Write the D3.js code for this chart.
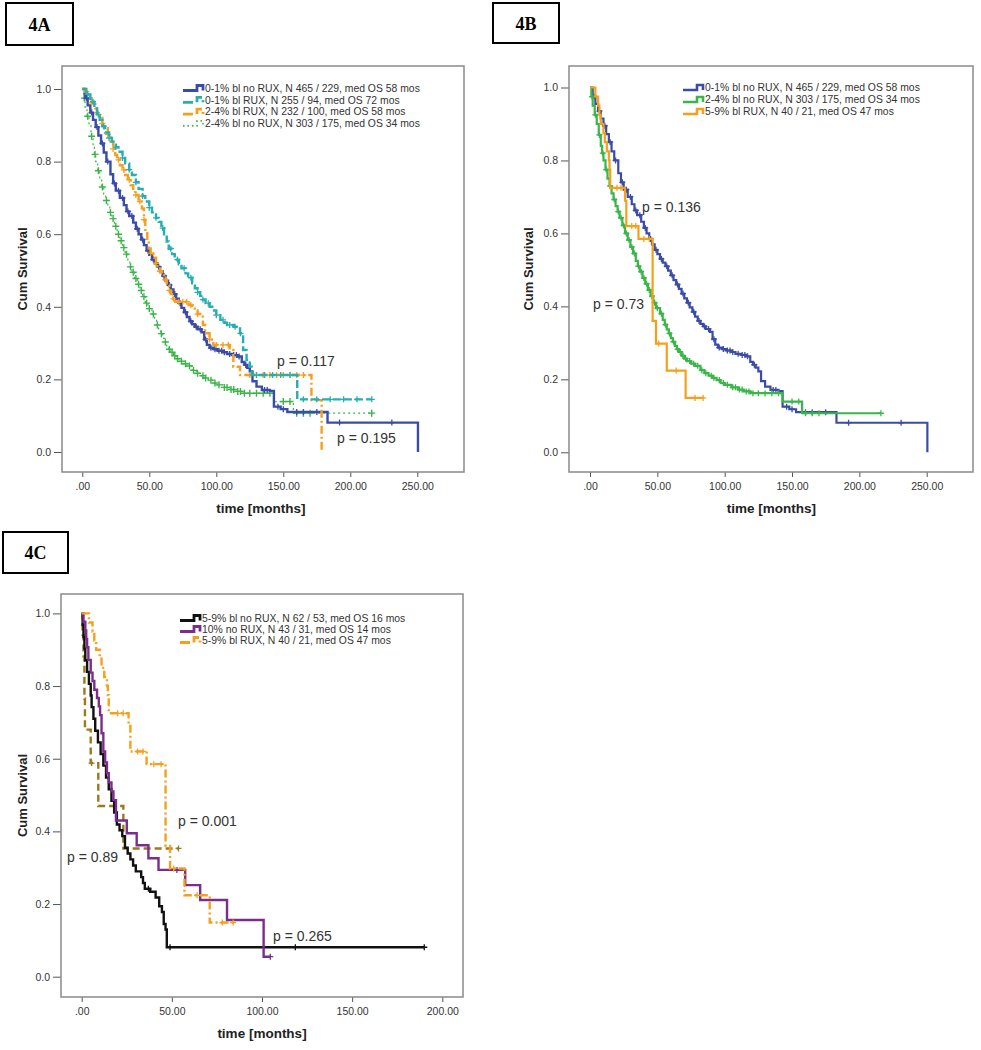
<!DOCTYPE html>
<html><head><meta charset="utf-8">
<script src="https://cdn.jsdelivr.net/npm/d3@7"></script>
<style>body{margin:0;background:#fff;} svg{display:block;font-family:Arial,"Liberation Sans",sans-serif;}</style>
</head><body>
<svg id="c" width="981" height="1050"></svg>
<script>
// ---------- DATA ----------
const xTicks250 = [0, 50, 100, 150, 200, 250];
const xLabels250 = [".00", "50.00", "100.00", "150.00", "200.00", "250.00"];
const xTicks200 = [0, 50, 100, 150, 200];
const xLabels200 = [".00", "50.00", "100.00", "150.00", "200.00"];
const yTicks = [0, 0.2, 0.4, 0.6, 0.8, 1.0];
const yLabels = ["0.0", "0.2", "0.4", "0.6", "0.8", "1.0"];

// [time (months), cumulative survival]
const blue01NoRux = [[0,1],[2,0.975],[4,0.955],[6,0.935],[8,0.915],[10,0.895],[12,0.872],[14,0.85],[16,0.825],[18,0.8],[21,0.765],[23,0.74],[25,0.72],[28,0.7],[31,0.68],[33,0.663],[35,0.65],[38,0.632],[40,0.615],[42,0.6],[44,0.585],[46,0.57],[48,0.555],[50,0.543],[52,0.53],[54,0.52],[56,0.51],[58,0.498],[60,0.485],[62,0.472],[64,0.46],[66,0.448],[68,0.435],[70,0.422],[72,0.41],[74,0.397],[76,0.385],[78,0.372],[80,0.36],[82,0.352],[84,0.345],[86,0.338],[89,0.33],[91,0.31],[93,0.295],[95,0.287],[98,0.283],[101,0.279],[105,0.275],[108,0.27],[112,0.267],[116,0.263],[119,0.248],[121,0.24],[123,0.232],[125,0.222],[127,0.195],[130,0.18],[134,0.171],[140,0.168],[143,0.125],[148,0.118],[153,0.11],[183,0.081],[250.5,0]];
const blue01NoRuxCens = [3,7,11,15,19,24,27,30,34,37,41,45,49,53,57,61,65,69,73,77,81,85,88,92,96,99,102,104,106,110,113,115,117,122,136,138,146,150,160,165,175,192,231];

const teal01Rux = [[0,1],[3,0.985],[6,0.965],[9,0.95],[11,0.93],[13,0.915],[15,0.897],[17,0.88],[20,0.865],[22,0.855],[25,0.84],[27,0.827],[30,0.81],[32,0.795],[35,0.778],[37,0.763],[40,0.743],[42,0.725],[45,0.705],[47,0.69],[50,0.673],[52,0.66],[55,0.645],[57,0.634],[59,0.617],[61,0.6],[63,0.58],[64.5,0.56],[67,0.545],[69,0.53],[72,0.517],[74,0.506],[77,0.492],[79,0.48],[82,0.465],[84,0.451],[86,0.44],[88,0.43],[90,0.42],[92,0.41],[95,0.4],[97,0.39],[100,0.377],[103,0.364],[106,0.356],[108,0.35],[113,0.345],[117.7,0.327],[120,0.281],[122.6,0.253],[125,0.235],[126.4,0.212],[160.4,0.145],[216,0.145]];
const teal01RuxCens = [4,8,12,16,20,25,30,35,40,45,50,55,60,66,71,76,81,86,90,94,100,105,110,114,118,130,136,142,148,155,165,175,185,195,205,216];

const orange24Rux = [[0,1],[2,0.993],[5,0.975],[7,0.962],[9.7,0.947],[11,0.935],[13,0.92],[15,0.905],[17,0.892],[19,0.875],[21,0.855],[23,0.835],[24.6,0.818],[26,0.805],[28,0.79],[30,0.777],[32,0.763],[34,0.75],[36,0.735],[38,0.72],[39.6,0.708],[42,0.69],[44.5,0.671],[46,0.64],[47,0.607],[48.5,0.58],[49.6,0.561],[51,0.548],[53,0.535],[55,0.52],[56,0.51],[58,0.498],[59.5,0.488],[61,0.475],[63,0.46],[65,0.445],[66,0.435],[68,0.422],[69.4,0.414],[79.4,0.405],[82,0.395],[84,0.39],[86,0.38],[88,0.373],[90,0.35],[91.6,0.327],[95,0.31],[97.8,0.295],[110,0.281],[112.7,0.235],[117.7,0.212],[171,0.143],[178.6,0]];
const orange24RuxCens = [3,7,11,15,19,23,27,31,35,40,43,46,51,55,58,62,65,68,72,75,78,81,86,95,100,105,109,125,130,135,140,145,150,155,160,165];

const green24NoRux = [[0,1],[1,0.975],[2,0.95],[3.5,0.925],[5,0.9],[6.5,0.87],[8,0.84],[9,0.82],[10,0.8],[11.5,0.775],[13,0.75],[14.5,0.73],[16,0.71],[17.5,0.693],[19,0.675],[20.5,0.66],[22,0.643],[24,0.622],[26,0.6],[28,0.582],[30,0.563],[32,0.545],[34,0.525],[35.5,0.51],[37,0.495],[39,0.478],[41,0.462],[43,0.445],[45,0.428],[47,0.41],[49,0.395],[52,0.38],[54,0.363],[55.5,0.35],[57,0.337],[58.5,0.326],[60,0.313],[61.5,0.303],[63,0.292],[64.5,0.283],[66,0.275],[68,0.265],[70,0.257],[72,0.25],[75,0.243],[78,0.237],[82,0.225],[85,0.217],[88,0.21],[91,0.204],[94,0.198],[97,0.19],[100,0.185],[105,0.178],[110,0.172],[114,0.167],[119,0.162],[143,0.139],[157.5,0.107],[216,0.107]];
const green24NoRuxCens = [1.5,4,7,9.5,12,15,18,21,23,25,27,29,31,33,36,38,40,42,44,46,48,50,53,56,59,62,65,67,69,71,74,77,80,83,86,90,92,96,99,102,106,108,111,113,116,118,121,125,130,135,140,150,155,160,165,170,216];

const orange59Rux = [[0,1],[4,0.975],[6,0.95],[7,0.925],[8,0.9],[10,0.875],[11,0.85],[12.5,0.825],[14,0.8],[14.5,0.775],[15,0.725],[26,0.69],[27,0.62],[36,0.585],[46.5,0.36],[49,0.298],[57,0.224],[71,0.149],[84,0.149]];
const orange59RuxCens = [20,23,31,34,40,44,51,64,78,84];

const black59NoRux = [[0,1],[0.5,0.968],[1,0.935],[1.5,0.903],[2,0.871],[3,0.839],[4,0.806],[5,0.774],[5.5,0.742],[6.5,0.71],[7.5,0.677],[9,0.645],[10.5,0.613],[12,0.581],[13.5,0.548],[15,0.516],[16.5,0.484],[18,0.452],[19.5,0.419],[21,0.403],[22.5,0.387],[24,0.355],[25.5,0.339],[27,0.323],[28.5,0.306],[30,0.29],[33,0.274],[34,0.258],[35,0.242],[38,0.234],[41,0.218],[43,0.194],[44.5,0.178],[45.5,0.145],[46.5,0.13],[47.2,0.081],[190,0.081]];
const black59NoRuxCens = [37,49,118.5,190];

const purple10NoRux = [[0,1],[1,0.977],[2,0.953],[2.5,0.93],[3,0.907],[3.7,0.872],[5,0.837],[6,0.814],[7,0.79],[8.5,0.767],[9.5,0.744],[10.2,0.72],[11,0.67],[12,0.62],[13,0.59],[14,0.56],[15,0.535],[16.5,0.51],[17.6,0.486],[19,0.43],[25,0.395],[30.5,0.362],[37,0.326],[42.6,0.294],[57.4,0.252],[65.7,0.211],[80.6,0.156],[100.9,0.055],[104.6,0.055]];
const purple10NoRuxCens = [52.8,104.6];

const brownUnlabeled = [[0,1],[0.5,0.941],[1,0.882],[1.5,0.765],[1.8,0.68],[5,0.588],[9.2,0.47],[23.1,0.353],[53.7,0.353]];
const brownUnlabeledCens = [5.5,53.7];

const legendA = ["0-1% bl no RUX, N 465 / 229, med OS 58 mos","0-1% bl RUX, N 255 / 94, med OS 72 mos","2-4% bl RUX, N 232 / 100, med OS 58 mos","2-4% bl no RUX, N 303 / 175, med OS 34 mos"];
const legendB = ["0-1% bl no RUX, N 465 / 229, med OS 58 mos","2-4% bl no RUX, N 303 / 175, med OS 34 mos","5-9% bl RUX, N 40 / 21, med OS 47 mos"];
const legendC = ["5-9% bl no RUX, N 62 / 53, med OS 16 mos","10% no RUX, N 43 / 31, med OS 14 mos","5-9% bl RUX, N 40 / 21, med OS 47 mos"];

// ---------- STYLES ----------
const C = {blue:"#3a4ca8", teal:"#26aeb2", orange:"#f5a01c", green:"#3bb54a", purple:"#7b2d8c", black:"#111111", brown:"#9c7a1c"};
const ST = {
  solid:{dash:null,w:2.4}, dashed:{dash:"8,3",w:2.4}, dashdot:{dash:"8,3,2,3",w:2.4},
  dotted:{dash:"2,3",w:1.2}, solidB:{dash:null,w:2.2}, brownDash:{dash:"7,4",w:2.4}
};

const svg = d3.select("#c");

function panelBox(x,y,w,h,label){
  svg.append("rect").attr("x",x).attr("y",y).attr("width",w).attr("height",h)
    .attr("fill","#fff").attr("stroke","#000").attr("stroke-width",2);
  svg.append("text").attr("x",x+w/2).attr("y",y+h/2+6.5).attr("text-anchor","middle")
    .attr("font-family","'Liberation Serif','Times New Roman',serif").attr("font-weight","bold")
    .attr("font-size",18).text(label);
}

function drawPanel(cfg){
  const g = svg.append("g");
  const x = d3.scaleLinear().domain([0,cfg.xMax]).range(cfg.xr);
  const y = d3.scaleLinear().domain([0,1]).range(cfg.yr);
  const f = cfg.frame;
  const ya = g.append("g").attr("transform",`translate(${f.x},0)`)
    .call(d3.axisLeft(y).tickValues(yTicks).tickFormat((d,i)=>yLabels[i]).tickSize(8).tickPadding(3));
  const xa = g.append("g").attr("transform",`translate(0,${f.y+f.h})`)
    .call(d3.axisBottom(x).tickValues(cfg.xTicks).tickFormat((d,i)=>cfg.xLabels[i]).tickSize(5).tickPadding(6));
  [ya,xa].forEach(a=>{
    a.select(".domain").remove();
    a.selectAll("line").attr("stroke","#555").attr("stroke-width",1);
    a.selectAll("text").attr("fill","#333").attr("font-size",10.5).attr("font-family","Arial,'Liberation Sans',sans-serif");
  });
  g.append("rect").attr("x",f.x).attr("y",f.y).attr("width",f.w).attr("height",f.h)
    .attr("fill","none").attr("stroke","#8a8a8a").attr("stroke-width",1.5);
  g.append("text").attr("transform",`translate(${cfg.ylabX},${f.y+f.h/2}) rotate(-90)`)
    .attr("text-anchor","middle").attr("font-weight","bold").attr("font-size",13).attr("fill","#222").text("Cum Survival");
  g.append("text").attr("x",(x(0)+x(cfg.xTicks[cfg.xTicks.length-1]))/2+cfg.xlabShift).attr("y",f.y+f.h+41)
    .attr("text-anchor","middle").attr("font-weight","bold").attr("font-size",13.5).attr("fill","#222").text("time [months]");
  const line = d3.line().x(d=>x(d[0])).y(d=>y(d[1])).curve(d3.curveStepAfter);
  const bis = d3.bisector(d=>d[0]).right;
  cfg.series.forEach(s=>{
    g.append("path").datum(s.data).attr("d",line).attr("fill","none")
      .attr("stroke",s.color).attr("stroke-width",s.style.w)
      .attr("stroke-dasharray",s.style.dash).attr("stroke-linejoin","miter");
    const arm = s.plus || 3;
    s.cens.forEach(t=>{
      const i = Math.max(0,bis(s.data,t)-1);
      const cx = x(t), cy = y(s.data[i][1]);
      g.append("path").attr("d",`M${cx-arm},${cy}H${cx+arm}M${cx},${cy-arm}V${cy+arm}`)
        .attr("stroke",s.color).attr("stroke-width",s.plusW||1.3).attr("fill","none");
    });
  });
  cfg.pvals.forEach(p=>{
    g.append("text").attr("x",p.x).attr("y",p.y).attr("font-size",14).attr("fill","#333").text(p.t);
  });
  cfg.legend.forEach((it,i)=>{
    const ly = cfg.leg.y + i*cfg.leg.dy;
    const lx = cfg.leg.x;
    g.append("path").attr("d",`M${lx},${ly+2.5}H${lx+14}V${ly-2.5}H${lx+20}V${ly+2.5}`)
      .attr("fill","none").attr("stroke",it.color).attr("stroke-width",it.style.w+0.4)
      .attr("stroke-dasharray",it.style.dash ? (it.style.dash==="2,3"?"1.5,3":"10,4") : null);
    g.append("text").attr("x",lx+22).attr("y",ly+3.8).attr("font-size",10.4).attr("fill","#333").text(it.text);
  });
}

panelBox(6,3,67,42,"4A");
panelBox(493,3,66,40,"4B");
panelBox(3,532,65,41,"4C");

drawPanel({
  frame:{x:62,y:66,w:402,h:406}, xMax:250, xr:[82.3,417.3], yr:[452,89],
  xTicks:xTicks250, xLabels:xLabels250, ylabX:27, xlabShift:11,
  series:[
    {data:green24NoRux, cens:green24NoRuxCens, color:C.green, style:ST.dotted, plus:3.5, plusW:1.4},
    {data:blue01NoRux, cens:blue01NoRuxCens, color:C.blue, style:ST.solid},
    {data:orange24Rux, cens:orange24RuxCens, color:C.orange, style:ST.dashdot},
    {data:teal01Rux, cens:teal01RuxCens, color:C.teal, style:ST.dashed}
  ],
  pvals:[{x:277,y:366,t:"p = 0.117"},{x:337,y:443,t:"p = 0.195"}],
  leg:{x:183,y:88,dy:11.8},
  legend:[
    {text:legendA[0],color:C.blue,style:ST.solid},
    {text:legendA[1],color:C.teal,style:ST.dashed},
    {text:legendA[2],color:C.orange,style:ST.dashdot},
    {text:legendA[3],color:C.green,style:ST.dotted}
  ]
});

drawPanel({
  frame:{x:569,y:66,w:404,h:406}, xMax:250, xr:[590,926.7], yr:[452.3,87.5],
  xTicks:xTicks250, xLabels:xLabels250, ylabX:533, xlabShift:13,
  series:[
    {data:blue01NoRux, cens:blue01NoRuxCens, color:C.blue, style:ST.solidB},
    {data:green24NoRux, cens:green24NoRuxCens, color:C.green, style:ST.solidB},
    {data:orange59Rux, cens:orange59RuxCens, color:C.orange, style:ST.solidB}
  ],
  pvals:[{x:642,y:212,t:"p = 0.136"},{x:593,y:309,t:"p = 0.73"}],
  leg:{x:683,y:87.5,dy:12},
  legend:[
    {text:legendB[0],color:C.blue,style:ST.solidB},
    {text:legendB[1],color:C.green,style:ST.solidB},
    {text:legendB[2],color:C.orange,style:ST.solidB}
  ]
});

drawPanel({
  frame:{x:61,y:594,w:402,h:403}, xMax:200, xr:[81.7,442.3], yr:[976.7,613.4],
  xTicks:xTicks200, xLabels:xLabels200, ylabX:27, xlabShift:0,
  series:[
    {data:brownUnlabeled, cens:brownUnlabeledCens, color:C.brown, style:ST.brownDash},
    {data:black59NoRux, cens:black59NoRuxCens, color:C.black, style:ST.solid},
    {data:purple10NoRux, cens:purple10NoRuxCens, color:C.purple, style:ST.solid},
    {data:orange59Rux, cens:orange59RuxCens, color:C.orange, style:ST.dashdot}
  ],
  pvals:[{x:178,y:826,t:"p = 0.001"},{x:67,y:862,t:"p = 0.89"},{x:273,y:941,t:"p = 0.265"}],
  leg:{x:180,y:618,dy:11},
  legend:[
    {text:legendC[0],color:C.black,style:ST.solid},
    {text:legendC[1],color:C.purple,style:ST.solid},
    {text:legendC[2],color:C.orange,style:ST.dashdot}
  ]
});
</script>
</body></html>
